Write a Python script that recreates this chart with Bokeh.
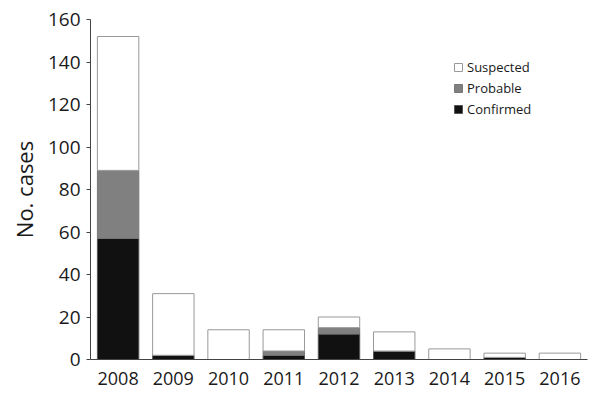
from bokeh.plotting import figure
from bokeh.models import FactorRange, Range1d, Legend, LegendItem, FixedTicker
from bokeh.embed import file_html
from bokeh.resources import INLINE

years = ["2008", "2009", "2010", "2011", "2012", "2013", "2014", "2015", "2016"]
confirmed = [57, 2, 0, 2, 12, 4, 0, 1, 0]
probable = [32, 0, 0, 2, 3, 0, 0, 0, 0]
suspected = [63, 29, 14, 10, 5, 9, 5, 2, 3]
y_ticks = [0, 20, 40, 60, 80, 100, 120, 140, 160]

data = dict(year=years, Confirmed=confirmed, Probable=probable, Suspected=suspected)

p = figure(width=597, height=390, x_range=FactorRange(*years, range_padding=0),
           y_range=Range1d(0, 160), output_backend="svg", toolbar_location=None,
           min_border_left=90, min_border_right=10, min_border_top=19, min_border_bottom=31)

rs = p.vbar_stack(["Confirmed", "Probable", "Suspected"], x="year", width=0.75, source=data,
                  fill_color=["#111111", "#808080", "#ffffff"],
                  line_color=["#555555", "#777777", "#999999"], line_width=1)

legend = Legend(items=[LegendItem(label="Suspected", renderers=[rs[2]]),
                       LegendItem(label="Probable", renderers=[rs[1]]),
                       LegendItem(label="Confirmed", renderers=[rs[0]])],
                location=(363, 240), padding=0, margin=0, spacing=1,
                glyph_width=10, glyph_height=10, label_height=20, label_standoff=4,
                label_text_font="Open Sans", label_text_font_size="13px",
                label_text_color="#1a1a1a",
                border_line_color=None, background_fill_alpha=0)
p.add_layout(legend, "center")

p.xgrid.grid_line_color = None
p.ygrid.grid_line_color = None
p.outline_line_color = None

p.yaxis.ticker = FixedTicker(ticks=y_ticks)
p.yaxis.axis_label = "No. cases"
p.yaxis.axis_label_text_font = "Open Sans"
p.yaxis.axis_label_text_font_style = "normal"
p.yaxis.axis_label_text_font_size = "22px"
p.yaxis.axis_label_standoff = 6
p.yaxis.minor_tick_line_color = None
p.yaxis.major_tick_in = 0
p.yaxis.major_tick_out = 4

for ax in (p.xaxis, p.yaxis):
    ax.axis_line_color = "#444444"
    ax.major_tick_line_color = "#444444"
    ax.major_label_text_font = "Open Sans"
    ax.major_label_text_color = "#1a1a1a"
    ax.axis_label_text_color = "#1a1a1a"

p.xaxis.major_label_text_font_size = "18px"
p.yaxis.major_label_text_font_size = "19px"
p.xaxis.major_tick_line_color = None
p.xaxis.major_label_standoff = 6
p.yaxis.major_label_standoff = 6

open("out.html", "w").write(file_html(p, INLINE))
